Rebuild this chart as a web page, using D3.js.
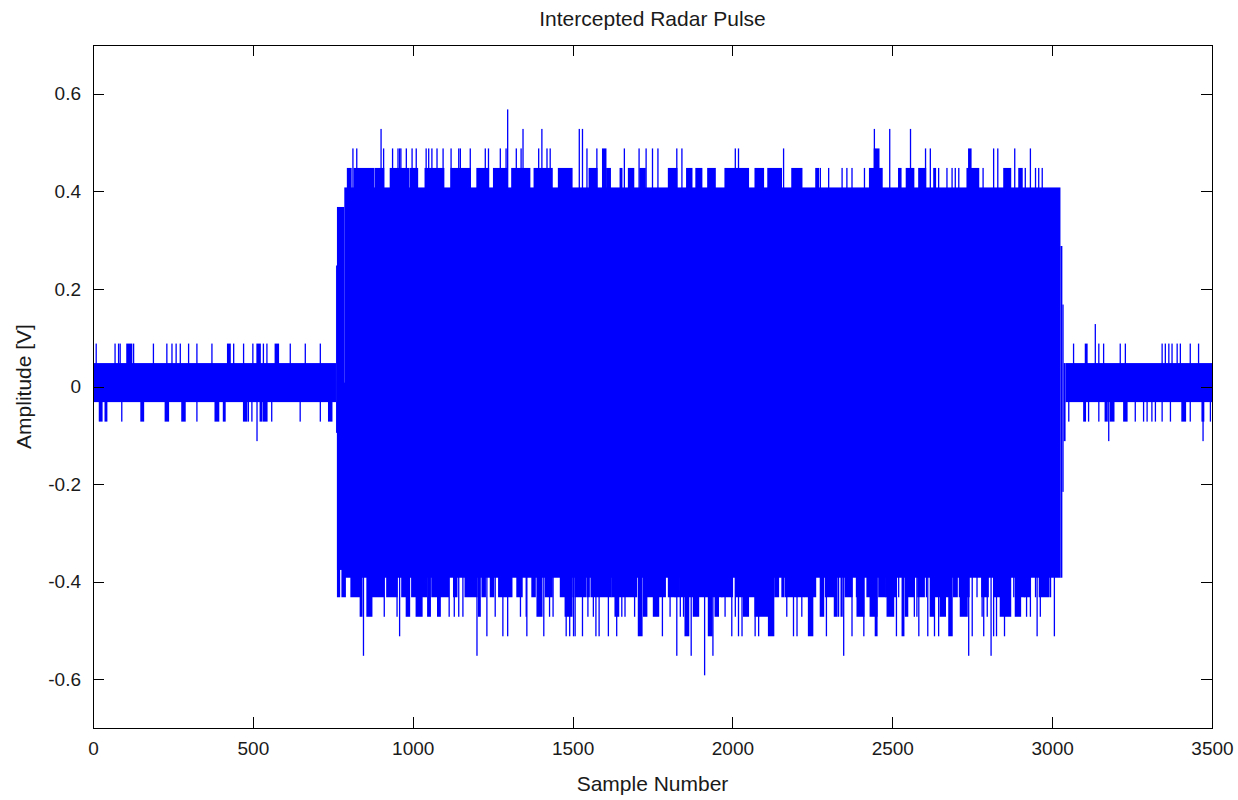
<!DOCTYPE html>
<html>
<head>
<meta charset="utf-8">
<script src="https://cdn.jsdelivr.net/npm/d3@7"></script>
<style>
  body { margin: 0; background: #fff; }
  svg text { font-family: "Liberation Sans", Arial, sans-serif; fill: #1a1a1a; }
</style>
</head>
<body>
<div id="chart"></div>
<script>
var width = 1238;
var height = 800;
var margin = {top: 45, right: 26, bottom: 72, left: 93};

var xDomain = [0, 3500];
var yDomain = [-0.7, 0.7];
var xTicks = [0, 500, 1000, 1500, 2000, 2500, 3000, 3500];
var yTicks = [-0.6, -0.4, -0.2, 0, 0.2, 0.4, 0.6];

// dense part of the trace: [fromSample, toSample, top, bottom]
var bandSegments = [
  [0, 760, 0.048, -0.032],
  [760, 763, 0.248, -0.095],
  [763, 786, 0.368, -0.376],
  [786, 3026, 0.408, -0.392],
  [3026, 3032, 0.288, -0.392],
  [3032, 3036, 0.168, -0.216],
  [3036, 3042, 0.048, -0.112],
  [3042, 3500, 0.048, -0.032]
];

// excursions past the dense band, sample or [from, to] per level
var peaks448 = [[796,807],[817,878],[883,909],[930,987],[992,1015],[1039,1097],[1120,1180],[1201,1237],[1253,1295],[1310,1366],[1380,1436],[1456,1498],
  [1552,1576],[1607,1618],[1649,1654],[1675,1691],[1711,1727],[1800,1826],[1857,1873],[1886,1904],[1923,1946],[1977,2050],[2071,2097],[2111,2153],[2186,2217],[2261,2269],
  2275,2301,2343,2358,2374,2413,[2429,2468],[2520,2527],[2544,2567],[2583,2604],[2630,2635],2645,2671,2687,2697,2708,[2734,2770],2784,[2849,2870],[2896,2906],2916,2948,2958,2969];
var peaks488 = [813,825,909,937,954,959,963,980,998,1011,1042,1050,1060,1076,1095,1120,1144,1149,1180,1227,1237,1274,1292,1324,1339,1394,1420,1430,
  1545,1576,[1594,1604],1662,1708,1730,1750,1767,1826,1842,2009,2019,2160,[2444,2458],2604,2619,[2739,2746],2817,2830,2883,2932];
var peaks528 = [901,1345,1404,1521,1531,2444,2492,2557];
var peaks568 = [1297];

var troughs432 = [[765,771],[779,789],[807,836],[872,909],[919,951],[966,977],[997,1011],[1029,1044],[1060,1112],[1128,1138],[1164,1201],[1217,1227],[1243,1253],[1269,1310],[1326,1342],[1373,1383],[1415,1436],[1462,1498],
  [1508,1540],[1545,1552],[1558,1620],[1623,1631],[1645,1700],[1732,1790],[1800,1820],[1821,1831],[1835,1890],[1894,1910],[1915,2000],1967,[2010,2130],[2134,2144],[2155,2160],[2165,2225],[2228,2238],[2240,2260],
  [2291,2317],[2353,2374],2388,[2421,2431],[2458,2478],[2480,2510],2520,[2548,2567],[2580,2600],2607,[2620,2650],[2666,2677],[2692,2703],[2710,2740],2765,[2780,2800],[2820,2860],2880,[2900,2930],2913,2948,[2960,2990],2995];
var troughs472 = [[836,841],[857,872],911,951,[980,990],[1011,1029],[1047,1055],[1078,1086],1114,1130,1144,1157,[1206,1211],1258,1337,1355,[1389,1404],1428,1439,[1477,1498],
  1548,1565,[1633,1644],1654,1664,1694,[1722,1732],[1753,1769],1805,1837,1847,[1878,1894],[1946,1956],1977,2009,[2035,2050],[2071,2113],2170,2217,
  [2275,2285],[2319,2327],2332,[2340,2343],[2390,2411],[2431,2452],[2484,2504],[2541,2548],2569,2577,[2619,2630],[2650,2666],[2713,2734],2781,2797,[2838,2849],[2854,2870],[2885,2901],2920,2932,2963];
var troughs512 = [959,1232,1282,1297,1357,1410,1480,1491,1503,1508,1531,1573,1583,1612,1638,[1706,1717],1781,[1852,1863],[1925,1936],1998,2019,2030,2071,2082,[2113,2129],2191,2202,[2238,2251],
  2294,2374,2411,[2447,2452],2513,[2531,2536],2583,2611,2632,2645,[2677,2687],2750,2786,2817,2826,2851,2953,3007];
var troughs552 = [846,1201,1826,1871,1939,2348,2739,2809];
var troughs592 = [1913];

var noisePeaks088 = [10,69,80,85,[106,121],127,189,231,247,260,273,299,325,372,[421,429],440,471,500,[513,523],533,544,[570,580],617,664,711,
  3067,[3104,3109],3146,3161,3213,3229,3344,3354,3365,3375,3391,3401,3432,3458];
var noisePeaks128 = [3135];
var noiseTroughs072 = [[20,28],[38,43],90,[150,158],[226,236],[278,288],325,[382,393],[408,413],[471,481],486,497,[523,528],[533,544],559,648,711,[737,747],
  3052,[3099,3104],3114,3146,[3166,3172],[3182,3193],[3224,3234],3260,3286,3297,3312,3323,3344,3370,[3406,3417],3432,[3469,3474],3495];
var noiseTroughs112 = [513,3177,3472];

var midLevel = 0.008;
var excursions = [
  {level: 0.448, runs: peaks448}, {level: 0.488, runs: peaks488},
  {level: 0.528, runs: peaks528}, {level: 0.568, runs: peaks568},
  {level: -0.432, runs: troughs432}, {level: -0.472, runs: troughs472},
  {level: -0.512, runs: troughs512}, {level: -0.552, runs: troughs552},
  {level: -0.592, runs: troughs592},
  {level: 0.088, runs: noisePeaks088}, {level: 0.128, runs: noisePeaks128},
  {level: -0.072, runs: noiseTroughs072}, {level: -0.112, runs: noiseTroughs112}
];

var runs = [];
excursions.forEach(function(e) {
  e.runs.forEach(function(r) {
    var a = Array.isArray(r) ? r : [r, r];
    runs.push({from: a[0], to: a[1], level: e.level});
  });
});

var svg = d3.select('#chart').append('svg')
  .attr('width', width)
  .attr('height', height);

var x = d3.scaleLinear().domain(xDomain).range([margin.left, width - margin.right]);
var y = d3.scaleLinear().domain(yDomain).range([height - margin.bottom, margin.top]);

var lineColor = '#0000ff';
var lw = 1.3;

var plot = svg.append('g');

plot.selectAll('rect.band')
  .data(bandSegments)
  .enter().append('rect')
  .attr('class', 'band')
  .attr('x', function(d) { return x(d[0]); })
  .attr('width', function(d) { return x(d[1]) - x(d[0]); })
  .attr('y', function(d) { return y(d[2]); })
  .attr('height', function(d) { return y(d[3]) - y(d[2]); })
  .attr('fill', lineColor);

plot.selectAll('rect.spike')
  .data(runs)
  .enter().append('rect')
  .attr('class', 'spike')
  .attr('x', function(d) { return x(d.from) - lw / 2; })
  .attr('width', function(d) { return x(d.to) - x(d.from) + lw; })
  .attr('y', function(d) { return Math.min(y(d.level), y(midLevel)); })
  .attr('height', function(d) { return Math.abs(y(d.level) - y(midLevel)); })
  .attr('fill', lineColor);

// axes, MATLAB style: ticks inside on all four sides
var tickLen = 11;
var fmtY = function(d) { return d === 0 ? '0' : d.toFixed(1); };
var fmtX = function(d) { return String(d); };

var xAxis = svg.append('g')
  .attr('transform', 'translate(0,' + (height - margin.bottom) + ')')
  .call(d3.axisBottom(x).tickValues(xTicks).tickSizeInner(-tickLen).tickSizeOuter(0).tickPadding(14).tickFormat(fmtX));
var xTop = svg.append('g')
  .attr('transform', 'translate(0,' + margin.top + ')')
  .call(d3.axisTop(x).tickValues(xTicks).tickSizeInner(-tickLen).tickSizeOuter(0).tickFormat(''));
var yAxis = svg.append('g')
  .attr('transform', 'translate(' + margin.left + ',0)')
  .call(d3.axisLeft(y).tickValues(yTicks).tickSizeInner(-tickLen).tickSizeOuter(0).tickPadding(12).tickFormat(fmtY));
var yRight = svg.append('g')
  .attr('transform', 'translate(' + (width - margin.right) + ',0)')
  .call(d3.axisRight(y).tickValues(yTicks).tickSizeInner(-tickLen).tickSizeOuter(0).tickFormat(''));

[xAxis, xTop, yAxis, yRight].forEach(function(g) {
  g.selectAll('path, line').attr('stroke', '#000').attr('stroke-width', 1).attr('shape-rendering', 'crispEdges');
  g.selectAll('text').attr('font-size', '19px').attr('font-family', '"Liberation Sans", Arial, sans-serif').attr('fill', '#1a1a1a');
});

svg.append('text')
  .attr('x', (x(0) + x(3500)) / 2)
  .attr('y', 26)
  .attr('text-anchor', 'middle')
  .attr('font-size', '21px')
  .text('Intercepted Radar Pulse');

svg.append('text')
  .attr('x', (x(0) + x(3500)) / 2)
  .attr('y', 791)
  .attr('text-anchor', 'middle')
  .attr('font-size', '21px')
  .text('Sample Number');

svg.append('text')
  .attr('transform', 'translate(31,' + y(0) + ') rotate(-90)')
  .attr('text-anchor', 'middle')
  .attr('font-size', '21px')
  .text('Amplitude [V]');
</script>
</body>
</html>
